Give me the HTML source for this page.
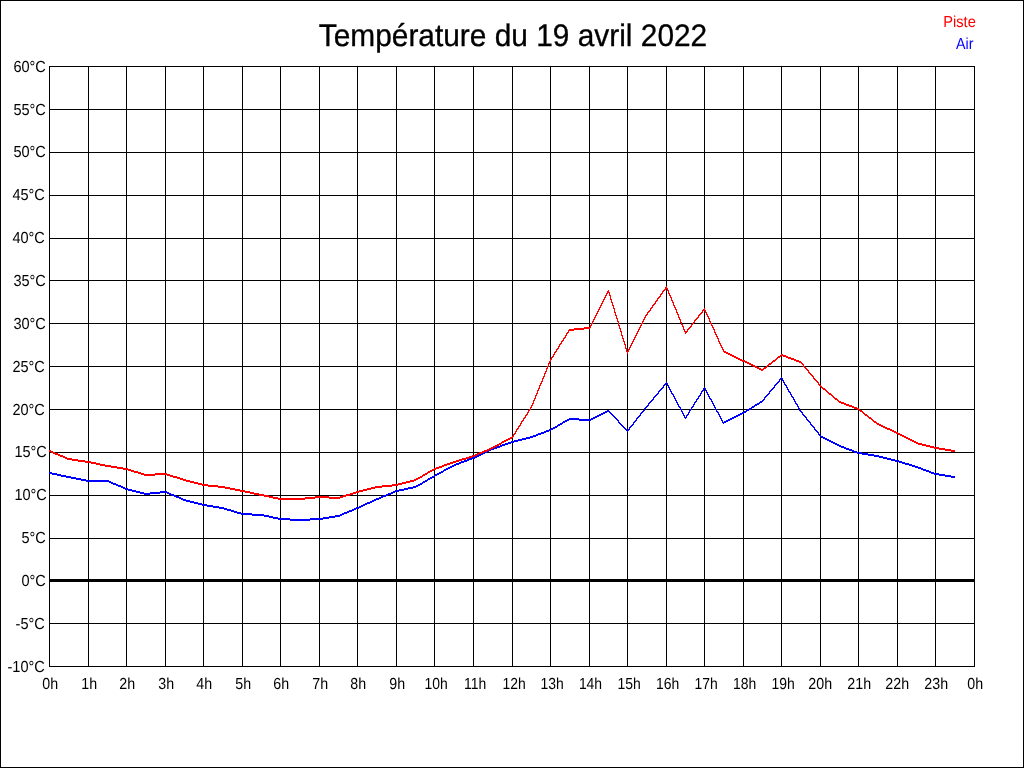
<!DOCTYPE html>
<html lang="fr"><head><meta charset="utf-8"><title>Température du 19 avril 2022</title>
<style>
html,body{margin:0;padding:0;background:#fff;}
body{width:1024px;height:768px;overflow:hidden;position:relative;}
svg{position:absolute;left:0;top:0;display:block;}
text{font-family:"Liberation Sans",sans-serif;text-rendering:geometricPrecision;}
.lab{font-size:14.67px;fill:#000;}
.ttl{font-size:29.87px;fill:#000;}
</style></head><body>
<svg width="1024" height="768" viewBox="0 0 1024 768">
<rect x="0" y="0" width="1024" height="768" fill="#fff"/>
<g shape-rendering="crispEdges" fill="#000">
<rect x="0" y="0" width="1024" height="1"/><rect x="0" y="767" width="1024" height="1"/>
<rect x="0" y="0" width="1" height="768"/><rect x="1023" y="0" width="1" height="768"/>
<rect x="49" y="66" width="1" height="601"/>
<rect x="88" y="66" width="1" height="601"/>
<rect x="126" y="66" width="1" height="601"/>
<rect x="165" y="66" width="1" height="601"/>
<rect x="203" y="66" width="1" height="601"/>
<rect x="242" y="66" width="1" height="601"/>
<rect x="280" y="66" width="1" height="601"/>
<rect x="319" y="66" width="1" height="601"/>
<rect x="357" y="66" width="1" height="601"/>
<rect x="396" y="66" width="1" height="601"/>
<rect x="434" y="66" width="1" height="601"/>
<rect x="473" y="66" width="1" height="601"/>
<rect x="512" y="66" width="1" height="601"/>
<rect x="550" y="66" width="1" height="601"/>
<rect x="589" y="66" width="1" height="601"/>
<rect x="627" y="66" width="1" height="601"/>
<rect x="666" y="66" width="1" height="601"/>
<rect x="704" y="66" width="1" height="601"/>
<rect x="743" y="66" width="1" height="601"/>
<rect x="781" y="66" width="1" height="601"/>
<rect x="820" y="66" width="1" height="601"/>
<rect x="858" y="66" width="1" height="601"/>
<rect x="897" y="66" width="1" height="601"/>
<rect x="935" y="66" width="1" height="601"/>
<rect x="974" y="66" width="1" height="601"/>
<rect x="49" y="666" width="926" height="1"/>
<rect x="49" y="623" width="926" height="1"/>
<rect x="49" y="579" width="926" height="3"/>
<rect x="49" y="538" width="926" height="1"/>
<rect x="49" y="495" width="926" height="1"/>
<rect x="49" y="452" width="926" height="1"/>
<rect x="49" y="409" width="926" height="1"/>
<rect x="49" y="366" width="926" height="1"/>
<rect x="49" y="323" width="926" height="1"/>
<rect x="49" y="280" width="926" height="1"/>
<rect x="49" y="238" width="926" height="1"/>
<rect x="49" y="195" width="926" height="1"/>
<rect x="49" y="152" width="926" height="1"/>
<rect x="49" y="109" width="926" height="1"/>
<rect x="49" y="66" width="926" height="1"/>
</g>
<path d="M781 377.5h1M780 378.5h3M779 379.5h2M782 379.5h1M779 380.5h1M782 380.5h2M778 381.5h2M783 381.5h1M666 382.5h1M777 382.5h2M783 382.5h2M665 383.5h3M776 383.5h2M784 383.5h1M664 384.5h2M667 384.5h1M775 384.5h2M784 384.5h2M663 385.5h2M667 385.5h2M774 385.5h2M785 385.5h2M663 386.5h1M668 386.5h1M774 386.5h1M786 386.5h1M662 387.5h2M668 387.5h2M704 387.5h1M773 387.5h2M786 387.5h2M661 388.5h2M669 388.5h1M703 388.5h3M772 388.5h2M787 388.5h1M660 389.5h2M669 389.5h2M703 389.5h1M705 389.5h1M771 389.5h2M787 389.5h2M659 390.5h2M670 390.5h1M702 390.5h2M705 390.5h2M770 390.5h2M788 390.5h1M658 391.5h2M670 391.5h2M701 391.5h2M706 391.5h1M769 391.5h2M788 391.5h2M658 392.5h1M671 392.5h1M701 392.5h1M706 392.5h2M769 392.5h1M789 392.5h2M657 393.5h2M671 393.5h2M700 393.5h2M707 393.5h1M768 393.5h2M790 393.5h1M656 394.5h2M672 394.5h2M700 394.5h1M707 394.5h2M767 394.5h2M790 394.5h2M655 395.5h2M673 395.5h1M699 395.5h2M708 395.5h1M766 395.5h2M791 395.5h1M654 396.5h2M673 396.5h2M698 396.5h2M708 396.5h2M765 396.5h2M791 396.5h2M653 397.5h2M674 397.5h1M698 397.5h1M709 397.5h1M764 397.5h2M792 397.5h2M653 398.5h1M674 398.5h2M697 398.5h2M709 398.5h2M764 398.5h1M793 398.5h1M652 399.5h2M675 399.5h1M696 399.5h2M710 399.5h2M763 399.5h2M793 399.5h2M651 400.5h2M675 400.5h2M696 400.5h1M711 400.5h1M762 400.5h2M794 400.5h1M650 401.5h2M676 401.5h1M695 401.5h2M711 401.5h2M760 401.5h3M794 401.5h2M649 402.5h2M676 402.5h2M694 402.5h2M712 402.5h1M759 402.5h3M795 402.5h1M648 403.5h2M677 403.5h1M694 403.5h1M712 403.5h2M757 403.5h3M795 403.5h2M648 404.5h1M677 404.5h2M693 404.5h2M713 404.5h1M755 404.5h4M796 404.5h2M647 405.5h2M678 405.5h1M693 405.5h1M713 405.5h2M754 405.5h3M797 405.5h1M646 406.5h2M678 406.5h2M692 406.5h2M714 406.5h1M752 406.5h3M797 406.5h2M645 407.5h2M679 407.5h2M691 407.5h2M714 407.5h2M751 407.5h3M798 407.5h1M644 408.5h2M680 408.5h1M691 408.5h1M715 408.5h1M749 408.5h3M798 408.5h2M644 409.5h1M680 409.5h2M690 409.5h2M715 409.5h2M747 409.5h4M799 409.5h1M607 410.5h2M643 410.5h2M681 410.5h1M689 410.5h2M716 410.5h1M746 410.5h3M799 410.5h2M605 411.5h5M642 411.5h2M681 411.5h2M689 411.5h1M716 411.5h2M744 411.5h3M800 411.5h2M603 412.5h4M609 412.5h2M641 412.5h2M682 412.5h1M688 412.5h2M717 412.5h2M742 412.5h4M801 412.5h2M601 413.5h4M610 413.5h2M640 413.5h2M682 413.5h2M688 413.5h1M718 413.5h1M740 413.5h4M802 413.5h1M599 414.5h4M611 414.5h2M640 414.5h1M683 414.5h1M687 414.5h2M718 414.5h2M738 414.5h4M802 414.5h2M597 415.5h4M612 415.5h2M639 415.5h2M683 415.5h2M686 415.5h2M719 415.5h1M736 415.5h4M803 415.5h2M595 416.5h4M613 416.5h2M638 416.5h2M684 416.5h1M686 416.5h1M719 416.5h2M734 416.5h4M804 416.5h2M593 417.5h4M614 417.5h2M637 417.5h2M684 417.5h3M720 417.5h1M732 417.5h4M805 417.5h2M569 418.5h10M591 418.5h4M615 418.5h2M636 418.5h2M685 418.5h1M720 418.5h2M730 418.5h4M806 418.5h1M567 419.5h26M616 419.5h2M636 419.5h1M721 419.5h1M728 419.5h4M806 419.5h2M565 420.5h4M579 420.5h12M617 420.5h2M635 420.5h2M721 420.5h2M726 420.5h4M807 420.5h2M563 421.5h4M618 421.5h1M634 421.5h2M722 421.5h1M724 421.5h4M808 421.5h2M562 422.5h3M618 422.5h2M633 422.5h2M722 422.5h4M809 422.5h2M560 423.5h3M619 423.5h2M633 423.5h1M723 423.5h1M810 423.5h1M558 424.5h4M620 424.5h2M632 424.5h2M810 424.5h2M557 425.5h3M621 425.5h2M631 425.5h2M811 425.5h2M555 426.5h3M622 426.5h2M630 426.5h2M812 426.5h2M553 427.5h4M623 427.5h2M629 427.5h2M813 427.5h2M551 428.5h4M624 428.5h2M629 428.5h1M814 428.5h1M549 429.5h4M625 429.5h2M628 429.5h2M814 429.5h2M546 430.5h5M626 430.5h3M815 430.5h2M544 431.5h5M627 431.5h1M816 431.5h2M541 432.5h5M817 432.5h2M538 433.5h6M818 433.5h1M536 434.5h5M818 434.5h2M533 435.5h5M819 435.5h2M530 436.5h6M820 436.5h3M526 437.5h7M821 437.5h4M522 438.5h8M823 438.5h4M518 439.5h8M825 439.5h4M514 440.5h8M827 440.5h4M511 441.5h7M829 441.5h4M508 442.5h6M831 442.5h4M505 443.5h6M833 443.5h4M502 444.5h6M835 444.5h4M500 445.5h5M837 445.5h4M497 446.5h5M839 446.5h5M494 447.5h6M841 447.5h5M491 448.5h6M844 448.5h5M489 449.5h5M846 449.5h6M487 450.5h4M849 450.5h5M485 451.5h4M852 451.5h5M483 452.5h4M854 452.5h8M481 453.5h4M857 453.5h11M479 454.5h4M862 454.5h12M477 455.5h4M868 455.5h11M475 456.5h4M874 456.5h9M472 457.5h5M879 457.5h8M469 458.5h6M883 458.5h8M467 459.5h5M887 459.5h8M464 460.5h5M891 460.5h8M461 461.5h6M895 461.5h7M459 462.5h5M899 462.5h6M456 463.5h5M902 463.5h7M454 464.5h5M905 464.5h7M452 465.5h4M909 465.5h6M450 466.5h4M912 466.5h6M448 467.5h4M915 467.5h6M446 468.5h4M918 468.5h5M444 469.5h4M921 469.5h5M443 470.5h3M923 470.5h6M441 471.5h3M926 471.5h5M49 472.5h3M439 472.5h4M929 472.5h5M49 473.5h8M437 473.5h4M931 473.5h8M52 474.5h9M435 474.5h4M934 474.5h11M57 475.5h9M434 475.5h3M939 475.5h12M61 476.5h10M432 476.5h3M945 476.5h10M66 477.5h10M430 477.5h4M951 477.5h4M71 478.5h10M428 478.5h4M76 479.5h10M427 479.5h3M81 480.5h28M425 480.5h3M86 481.5h25M423 481.5h4M109 482.5h4M422 482.5h3M111 483.5h5M420 483.5h3M113 484.5h5M418 484.5h4M116 485.5h5M416 485.5h4M118 486.5h5M413 486.5h5M121 487.5h4M408 487.5h8M123 488.5h5M404 488.5h9M125 489.5h7M399 489.5h9M128 490.5h8M395 490.5h9M132 491.5h8M160 491.5h7M393 491.5h6M136 492.5h8M150 492.5h19M391 492.5h4M140 493.5h20M167 493.5h4M388 493.5h5M144 494.5h6M169 494.5h5M386 494.5h5M171 495.5h5M383 495.5h5M174 496.5h5M381 496.5h5M176 497.5h5M379 497.5h4M179 498.5h4M376 498.5h5M181 499.5h5M374 499.5h5M183 500.5h7M372 500.5h4M186 501.5h8M370 501.5h4M190 502.5h8M367 502.5h5M194 503.5h8M365 503.5h5M198 504.5h9M363 504.5h4M202 505.5h11M361 505.5h4M207 506.5h12M359 506.5h4M213 507.5h11M356 507.5h5M219 508.5h8M354 508.5h5M224 509.5h7M352 509.5h4M227 510.5h7M349 510.5h5M231 511.5h6M347 511.5h5M234 512.5h7M344 512.5h5M237 513.5h15M342 513.5h5M241 514.5h23M340 514.5h4M252 515.5h17M335 515.5h7M264 516.5h9M329 516.5h11M269 517.5h9M323 517.5h12M273 518.5h17M310 518.5h19M278 519.5h45M290 520.5h20" fill="none" stroke="#0000ff" stroke-width="1" shape-rendering="crispEdges"/>

<path d="M666 286.5h1M665 287.5h2M665 288.5h3M664 289.5h2M667 289.5h1M608 290.5h1M663 290.5h2M667 290.5h2M607 291.5h2M662 291.5h2M668 291.5h1M607 292.5h3M662 292.5h1M668 292.5h1M606 293.5h2M609 293.5h1M661 293.5h2M668 293.5h2M606 294.5h1M609 294.5h1M660 294.5h2M669 294.5h1M605 295.5h2M609 295.5h2M660 295.5h1M669 295.5h2M605 296.5h1M610 296.5h1M659 296.5h2M670 296.5h1M604 297.5h2M610 297.5h1M658 297.5h2M670 297.5h2M604 298.5h1M610 298.5h1M657 298.5h2M671 298.5h1M603 299.5h2M610 299.5h2M657 299.5h1M671 299.5h1M603 300.5h1M611 300.5h1M656 300.5h2M671 300.5h2M602 301.5h2M611 301.5h1M655 301.5h2M672 301.5h1M602 302.5h1M611 302.5h2M655 302.5h1M672 302.5h2M601 303.5h2M612 303.5h1M654 303.5h2M673 303.5h1M601 304.5h1M612 304.5h1M653 304.5h2M673 304.5h1M600 305.5h2M612 305.5h2M652 305.5h2M673 305.5h2M600 306.5h1M613 306.5h1M652 306.5h1M674 306.5h1M599 307.5h2M613 307.5h1M651 307.5h2M674 307.5h2M599 308.5h1M613 308.5h2M650 308.5h2M675 308.5h1M704 308.5h1M598 309.5h2M614 309.5h1M650 309.5h1M675 309.5h2M703 309.5h2M598 310.5h1M614 310.5h1M649 310.5h2M676 310.5h1M702 310.5h4M597 311.5h2M614 311.5h1M648 311.5h2M676 311.5h1M702 311.5h1M705 311.5h1M597 312.5h1M614 312.5h2M647 312.5h2M676 312.5h2M701 312.5h2M705 312.5h2M596 313.5h2M615 313.5h1M647 313.5h1M677 313.5h1M700 313.5h2M706 313.5h1M596 314.5h1M615 314.5h1M646 314.5h2M677 314.5h2M699 314.5h2M706 314.5h2M595 315.5h2M615 315.5h2M645 315.5h2M678 315.5h1M698 315.5h2M707 315.5h1M595 316.5h1M616 316.5h1M645 316.5h1M678 316.5h1M698 316.5h1M707 316.5h2M594 317.5h2M616 317.5h1M644 317.5h2M678 317.5h2M697 317.5h2M708 317.5h1M594 318.5h1M616 318.5h2M644 318.5h1M679 318.5h1M696 318.5h2M708 318.5h2M593 319.5h2M617 319.5h1M643 319.5h2M679 319.5h2M695 319.5h2M709 319.5h1M593 320.5h1M617 320.5h1M643 320.5h1M680 320.5h1M694 320.5h2M709 320.5h1M592 321.5h2M617 321.5h2M642 321.5h2M680 321.5h1M694 321.5h1M709 321.5h2M592 322.5h1M618 322.5h1M642 322.5h1M680 322.5h2M693 322.5h2M710 322.5h1M591 323.5h2M618 323.5h1M641 323.5h2M681 323.5h1M692 323.5h2M710 323.5h2M591 324.5h1M618 324.5h1M641 324.5h1M681 324.5h2M691 324.5h2M711 324.5h1M590 325.5h2M618 325.5h2M640 325.5h2M682 325.5h1M691 325.5h1M711 325.5h2M590 326.5h1M619 326.5h1M640 326.5h1M682 326.5h2M690 326.5h2M712 326.5h1M584 327.5h7M619 327.5h1M639 327.5h2M683 327.5h1M689 327.5h2M712 327.5h2M574 328.5h16M619 328.5h2M639 328.5h1M683 328.5h1M688 328.5h2M713 328.5h1M569 329.5h15M620 329.5h1M638 329.5h2M683 329.5h2M687 329.5h2M713 329.5h2M568 330.5h6M620 330.5h1M638 330.5h1M684 330.5h1M687 330.5h1M714 330.5h1M568 331.5h1M620 331.5h2M637 331.5h2M684 331.5h4M714 331.5h1M567 332.5h2M621 332.5h1M637 332.5h1M685 332.5h2M714 332.5h2M566 333.5h2M621 333.5h1M636 333.5h2M685 333.5h1M715 333.5h1M566 334.5h1M621 334.5h1M636 334.5h1M715 334.5h2M565 335.5h2M621 335.5h2M635 335.5h2M716 335.5h1M565 336.5h1M622 336.5h1M635 336.5h1M716 336.5h2M564 337.5h2M622 337.5h1M634 337.5h2M717 337.5h1M563 338.5h2M622 338.5h2M634 338.5h1M717 338.5h2M563 339.5h1M623 339.5h1M633 339.5h2M718 339.5h1M562 340.5h2M623 340.5h1M633 340.5h1M718 340.5h1M561 341.5h2M623 341.5h2M632 341.5h2M718 341.5h2M561 342.5h1M624 342.5h1M632 342.5h1M719 342.5h1M560 343.5h2M624 343.5h1M631 343.5h2M719 343.5h2M559 344.5h2M624 344.5h2M631 344.5h1M720 344.5h1M559 345.5h1M625 345.5h1M630 345.5h2M720 345.5h2M558 346.5h2M625 346.5h1M630 346.5h1M721 346.5h1M558 347.5h1M625 347.5h1M629 347.5h2M721 347.5h2M557 348.5h2M625 348.5h2M629 348.5h1M722 348.5h1M556 349.5h2M626 349.5h1M628 349.5h2M722 349.5h2M556 350.5h1M626 350.5h1M628 350.5h1M723 350.5h1M555 351.5h2M626 351.5h3M723 351.5h3M554 352.5h2M627 352.5h1M724 352.5h4M554 353.5h1M627 353.5h1M726 353.5h4M553 354.5h2M728 354.5h4M781 354.5h2M553 355.5h1M730 355.5h4M780 355.5h6M552 356.5h2M732 356.5h4M778 356.5h3M783 356.5h5M551 357.5h2M734 357.5h4M777 357.5h3M786 357.5h5M551 358.5h1M736 358.5h4M776 358.5h2M788 358.5h6M550 359.5h2M738 359.5h4M775 359.5h2M791 359.5h5M550 360.5h1M740 360.5h5M773 360.5h3M794 360.5h5M549 361.5h2M742 361.5h5M772 361.5h3M796 361.5h5M549 362.5h1M745 362.5h4M771 362.5h2M799 362.5h3M548 363.5h2M747 363.5h4M769 363.5h3M801 363.5h2M548 364.5h1M749 364.5h4M768 364.5h3M802 364.5h2M548 365.5h1M751 365.5h4M767 365.5h2M803 365.5h1M547 366.5h2M753 366.5h4M766 366.5h2M803 366.5h2M547 367.5h1M755 367.5h4M764 367.5h3M804 367.5h2M546 368.5h2M757 368.5h4M763 368.5h3M805 368.5h2M546 369.5h1M759 369.5h5M806 369.5h2M546 370.5h1M761 370.5h2M807 370.5h2M545 371.5h2M808 371.5h1M545 372.5h1M808 372.5h2M544 373.5h2M809 373.5h2M544 374.5h1M810 374.5h2M544 375.5h1M811 375.5h2M543 376.5h2M812 376.5h2M543 377.5h1M813 377.5h1M542 378.5h2M813 378.5h2M542 379.5h1M814 379.5h2M542 380.5h1M815 380.5h2M541 381.5h2M816 381.5h2M541 382.5h1M817 382.5h2M540 383.5h2M818 383.5h1M540 384.5h1M818 384.5h2M539 385.5h2M819 385.5h2M539 386.5h1M820 386.5h2M539 387.5h1M821 387.5h2M538 388.5h2M822 388.5h3M538 389.5h1M823 389.5h3M537 390.5h2M825 390.5h2M537 391.5h1M826 391.5h2M537 392.5h1M827 392.5h2M536 393.5h2M828 393.5h3M536 394.5h1M829 394.5h3M535 395.5h2M831 395.5h2M535 396.5h1M832 396.5h2M535 397.5h1M833 397.5h2M534 398.5h2M834 398.5h3M534 399.5h1M835 399.5h3M533 400.5h2M837 400.5h2M533 401.5h1M838 401.5h3M533 402.5h1M839 402.5h5M532 403.5h2M841 403.5h5M532 404.5h1M844 404.5h5M531 405.5h2M846 405.5h6M531 406.5h1M849 406.5h5M530 407.5h2M852 407.5h5M530 408.5h1M854 408.5h5M529 409.5h2M857 409.5h3M528 410.5h2M859 410.5h3M528 411.5h1M860 411.5h3M527 412.5h2M862 412.5h2M527 413.5h1M863 413.5h2M526 414.5h2M864 414.5h3M525 415.5h2M865 415.5h3M525 416.5h1M867 416.5h2M524 417.5h2M868 417.5h3M523 418.5h2M869 418.5h3M523 419.5h1M871 419.5h2M522 420.5h2M872 420.5h2M521 421.5h2M873 421.5h3M521 422.5h1M874 422.5h3M520 423.5h2M876 423.5h3M520 424.5h1M877 424.5h4M519 425.5h2M879 425.5h4M518 426.5h2M881 426.5h4M518 427.5h1M883 427.5h4M517 428.5h2M885 428.5h5M516 429.5h2M887 429.5h5M516 430.5h1M890 430.5h4M515 431.5h2M892 431.5h4M515 432.5h1M894 432.5h4M514 433.5h2M896 433.5h4M513 434.5h2M898 434.5h4M513 435.5h1M900 435.5h4M512 436.5h2M902 436.5h4M510 437.5h3M904 437.5h4M508 438.5h4M906 438.5h4M506 439.5h4M908 439.5h4M504 440.5h4M910 440.5h4M502 441.5h4M912 441.5h4M501 442.5h3M914 442.5h4M499 443.5h3M916 443.5h6M497 444.5h4M918 444.5h8M495 445.5h4M922 445.5h8M493 446.5h4M926 446.5h8M491 447.5h4M930 447.5h9M489 448.5h4M934 448.5h11M487 449.5h4M939 449.5h12M49 450.5h2M484 450.5h5M945 450.5h10M49 451.5h4M482 451.5h5M951 451.5h4M51 452.5h4M479 452.5h5M53 453.5h5M477 453.5h5M55 454.5h5M475 454.5h4M58 455.5h5M472 455.5h5M60 456.5h5M469 456.5h6M63 457.5h4M466 457.5h6M65 458.5h7M462 458.5h7M67 459.5h11M459 459.5h7M72 460.5h13M456 460.5h6M78 461.5h13M453 461.5h6M85 462.5h11M450 462.5h6M91 463.5h9M447 463.5h6M96 464.5h9M444 464.5h6M100 465.5h11M442 465.5h5M105 466.5h12M439 466.5h5M111 467.5h12M436 467.5h6M117 468.5h11M434 468.5h5M123 469.5h8M432 469.5h4M128 470.5h6M430 470.5h4M131 471.5h7M428 471.5h4M134 472.5h7M427 472.5h3M138 473.5h6M155 473.5h12M425 473.5h3M141 474.5h29M423 474.5h4M144 475.5h11M167 475.5h6M422 475.5h3M170 476.5h7M420 476.5h3M173 477.5h7M418 477.5h4M177 478.5h6M416 478.5h4M180 479.5h6M414 479.5h4M183 480.5h7M410 480.5h6M186 481.5h8M406 481.5h8M190 482.5h8M402 482.5h8M194 483.5h8M398 483.5h8M198 484.5h10M392 484.5h10M202 485.5h16M382 485.5h16M208 486.5h17M375 486.5h17M218 487.5h12M371 487.5h11M225 488.5h10M367 488.5h8M230 489.5h10M363 489.5h8M235 490.5h10M359 490.5h8M240 491.5h10M356 491.5h7M245 492.5h9M353 492.5h6M250 493.5h9M350 493.5h6M254 494.5h10M346 494.5h7M259 495.5h10M343 495.5h7M264 496.5h9M315 496.5h14M340 496.5h6M269 497.5h9M305 497.5h38M273 498.5h42M329 498.5h11M278 499.5h27" fill="none" stroke="#ff0000" stroke-width="1" shape-rendering="crispEdges"/>

<text class="lab" transform="translate(44.8,672) scale(0.99,1.09)" text-anchor="end">-10°C</text>
<text class="lab" transform="translate(44.8,629) scale(0.99,1.09)" text-anchor="end">-5°C</text>
<text class="lab" transform="translate(45.8,586) scale(0.99,1.09)" text-anchor="end">0°C</text>
<text class="lab" transform="translate(45.8,543) scale(0.99,1.09)" text-anchor="end">5°C</text>
<text class="lab" transform="translate(46.8,500) scale(0.99,1.09)" text-anchor="end">10°C</text>
<text class="lab" transform="translate(46.8,457) scale(0.99,1.09)" text-anchor="end">15°C</text>
<text class="lab" transform="translate(44.8,415) scale(0.99,1.09)" text-anchor="end">20°C</text>
<text class="lab" transform="translate(44.8,372) scale(0.99,1.09)" text-anchor="end">25°C</text>
<text class="lab" transform="translate(45.8,329) scale(0.99,1.09)" text-anchor="end">30°C</text>
<text class="lab" transform="translate(45.8,286) scale(0.99,1.09)" text-anchor="end">35°C</text>
<text class="lab" transform="translate(44.8,243) scale(0.99,1.09)" text-anchor="end">40°C</text>
<text class="lab" transform="translate(44.8,200) scale(0.99,1.09)" text-anchor="end">45°C</text>
<text class="lab" transform="translate(45.8,157) scale(0.99,1.09)" text-anchor="end">50°C</text>
<text class="lab" transform="translate(45.8,115) scale(0.99,1.09)" text-anchor="end">55°C</text>
<text class="lab" transform="translate(45.8,72) scale(0.99,1.09)" text-anchor="end">60°C</text>
<text class="lab" transform="translate(50.2,689) scale(0.97,1.09)" text-anchor="middle">0h</text>
<text class="lab" transform="translate(89.2,689) scale(0.97,1.09)" text-anchor="middle">1h</text>
<text class="lab" transform="translate(127.2,689) scale(0.97,1.09)" text-anchor="middle">2h</text>
<text class="lab" transform="translate(166.2,689) scale(0.97,1.09)" text-anchor="middle">3h</text>
<text class="lab" transform="translate(204.2,689) scale(0.97,1.09)" text-anchor="middle">4h</text>
<text class="lab" transform="translate(243.2,689) scale(0.97,1.09)" text-anchor="middle">5h</text>
<text class="lab" transform="translate(281.2,689) scale(0.97,1.09)" text-anchor="middle">6h</text>
<text class="lab" transform="translate(320.2,689) scale(0.97,1.09)" text-anchor="middle">7h</text>
<text class="lab" transform="translate(358.2,689) scale(0.97,1.09)" text-anchor="middle">8h</text>
<text class="lab" transform="translate(397.2,689) scale(0.97,1.09)" text-anchor="middle">9h</text>
<text class="lab" transform="translate(436.2,689) scale(0.95,1.09)" text-anchor="middle">10h</text>
<text class="lab" transform="translate(475.2,689) scale(0.95,1.09)" text-anchor="middle">11h</text>
<text class="lab" transform="translate(514.2,689) scale(0.95,1.09)" text-anchor="middle">12h</text>
<text class="lab" transform="translate(552.2,689) scale(0.95,1.09)" text-anchor="middle">13h</text>
<text class="lab" transform="translate(590.5,689) scale(0.95,1.09)" text-anchor="middle">14h</text>
<text class="lab" transform="translate(629.2,689) scale(0.95,1.09)" text-anchor="middle">15h</text>
<text class="lab" transform="translate(667.7,689) scale(0.95,1.09)" text-anchor="middle">16h</text>
<text class="lab" transform="translate(706.2,689) scale(0.95,1.09)" text-anchor="middle">17h</text>
<text class="lab" transform="translate(744.7,689) scale(0.95,1.09)" text-anchor="middle">18h</text>
<text class="lab" transform="translate(783.2,689) scale(0.95,1.09)" text-anchor="middle">19h</text>
<text class="lab" transform="translate(820.2,689) scale(0.97,1.09)" text-anchor="middle">20h</text>
<text class="lab" transform="translate(859.2,689) scale(0.97,1.09)" text-anchor="middle">21h</text>
<text class="lab" transform="translate(897.2,689) scale(0.97,1.09)" text-anchor="middle">22h</text>
<text class="lab" transform="translate(936.2,689) scale(0.97,1.09)" text-anchor="middle">23h</text>
<text class="lab" transform="translate(975.2,689) scale(0.97,1.09)" text-anchor="middle">0h</text>
<text class="ttl" transform="translate(513,45.7) scale(1,1.045)" text-anchor="middle" stroke="#000" stroke-width="0.3">Température du 19 avril 2022</text>
<text class="lab" transform="translate(975.8,27) scale(1,1.09)" text-anchor="end" style="fill:#ff0000">Piste</text>
<text class="lab" transform="translate(973.5,49) scale(0.97,1.09)" text-anchor="end" style="fill:#0000ff">Air</text>
</svg></body></html>
